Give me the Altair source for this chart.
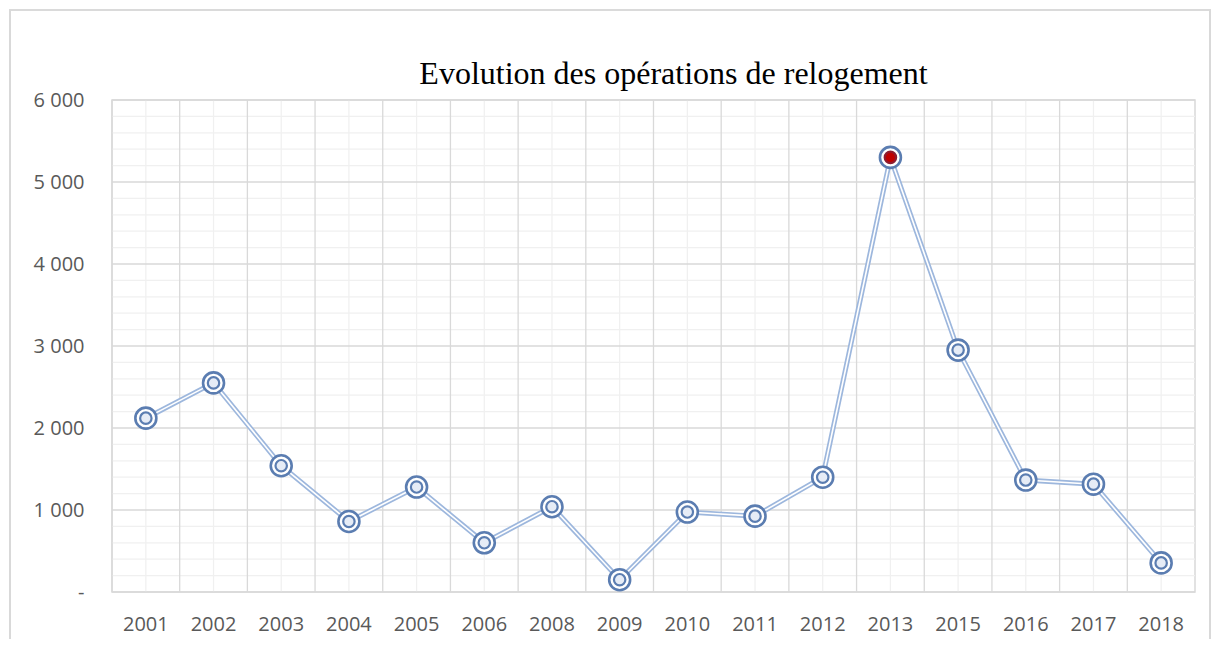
import altair as alt
import pandas as pd

title_text = "Evolution des opérations de relogement"
years = ["2001", "2002", "2003", "2004", "2005", "2006", "2008", "2009",
         "2010", "2011", "2012", "2013", "2015", "2016", "2017", "2018"]
values = [2120, 2550, 1540, 860, 1280, 600, 1040, 150,
          975, 925, 1400, 5300, 2950, 1365, 1315, 355]
highlight_year = "2013"
major_ticks = [0, 1000, 2000, 3000, 4000, 5000, 6000]
minor_ticks = [v for v in range(200, 6000, 200) if v % 1000 != 0]

df = pd.DataFrame({"year": years, "value": values})
df["hl"] = df["year"] == highlight_year
df_years = pd.DataFrame({"year": years})
df_minor = pd.DataFrame({"v": minor_ticks})
df_major = pd.DataFrame({"v": major_ticks})
df_title = pd.DataFrame({"t": [title_text]})

W, H = 1083, 492
blue = "#5B7DB1"
line_blue = "#9DB7DD"
lab = "#595959"

xscale = alt.Scale(type="band", domain=years, paddingInner=0, paddingOuter=0)
yscale = alt.Scale(domain=[0, 6000], nice=False)
xaxis = alt.Axis(title=None, ticks=False, domain=False, grid=False,
                 labelFont="Open Sans", labelFontSize=20, labelColor=lab,
                 labelPadding=22, labelAngle=0)
yaxis = alt.Axis(title=None, ticks=False, domain=False, grid=False,
                 values=major_ticks, labelFont="Open Sans", labelFontSize=20,
                 labelColor=lab, labelPadding=28,
                 labelExpr="datum.value == 0 ? '-\u00a0\u00a0' : replace(format(datum.value, ','), ',', ' ')")

X = lambda **kw: alt.X("year:N", scale=xscale, axis=xaxis, **kw)
Y = alt.Y("value:Q", scale=yscale, axis=yaxis)

border = alt.Chart(df_years).mark_rect(fill="transparent", stroke="#D9D9D9", strokeWidth=1.2).encode(
    x=alt.value(-102), x2=alt.value(1098), y=alt.value(-90), y2=alt.value(570))

title = alt.Chart(df_title).mark_text(font="Liberation Serif", fontSize=32, color="black",
                                      align="center", baseline="alphabetic").encode(
    x=alt.value(W / 2 + 20), y=alt.value(-16), text="t:N")

minor_h = alt.Chart(df_minor).mark_rule(color="#F0F0F0", strokeWidth=1.3).encode(
    y=alt.Y("v:Q", scale=yscale, axis=yaxis))
minor_v = alt.Chart(df_years).mark_rule(color="#F0F0F0", strokeWidth=1.3).encode(x=X())
major_v = alt.Chart(df_years).mark_rule(color="#D9D9D9", strokeWidth=1.3).encode(x=X(bandPosition=0))
major_h = alt.Chart(df_major).mark_rule(color="#D9D9D9", strokeWidth=1.3).encode(
    y=alt.Y("v:Q", scale=yscale, axis=yaxis))

line_outer = alt.Chart(df).mark_line(color=line_blue, strokeWidth=5).encode(x=X(), y=Y)
line_inner = alt.Chart(df).mark_line(color="white", strokeWidth=1.6).encode(x=X(), y=Y)

outer_pt = alt.Chart(df).mark_point(shape="circle", size=440, filled=False, fill="white",
                                    fillOpacity=1, stroke=blue, strokeWidth=2.6, opacity=1).encode(x=X(), y=Y)
inner_pt = alt.Chart(df).mark_point(shape="circle", size=130, strokeWidth=2.2, opacity=1,
                                    fillOpacity=1).encode(
    x=X(), y=Y,
    fill=alt.condition("datum.hl", alt.value("#C00000"), alt.value("#E6ECF6")),
    stroke=alt.condition("datum.hl", alt.value("#8E1B2E"), alt.value(blue)))

chart = alt.layer(border, title, minor_h, minor_v, major_v, major_h, line_outer, line_inner,
                  outer_pt, inner_pt).properties(
    width=W, height=H,
    autosize=alt.AutoSizeParams(type="none"),
    padding={"left": 104, "top": 92, "right": 17, "bottom": 47},
).configure_view(stroke="#D9D9D9", strokeWidth=1.5)

chart.save("out.html", embed_options={"renderer": "svg", "actions": False})
